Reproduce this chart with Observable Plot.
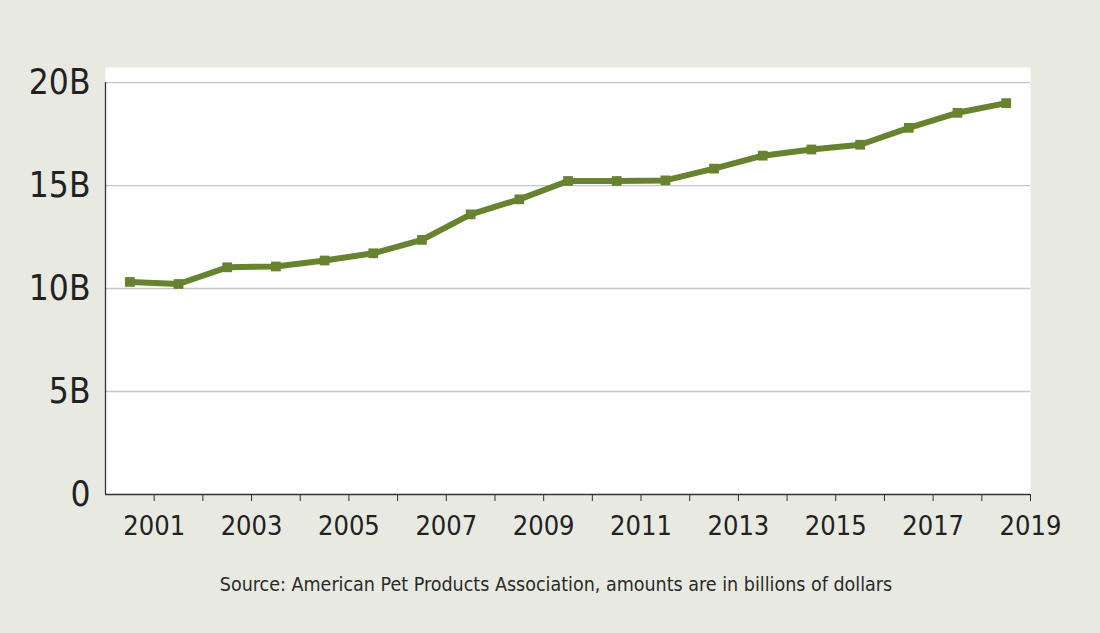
<!DOCTYPE html>
<html><head><meta charset="utf-8">
<script src="https://cdn.jsdelivr.net/npm/d3@7"></script>
<script src="https://cdn.jsdelivr.net/npm/@observablehq/plot@0.6"></script>
<style>
html,body{margin:0;padding:0;background:#e8eae2;}
#chart{width:1100px;height:633px;position:relative;overflow:hidden;}
#chart svg text{font-stretch:condensed;}
#caption{position:absolute;left:0;width:1112px;top:573px;text-align:center;font-family:"DejaVu Sans Condensed","DejaVu Sans",sans-serif;font-stretch:condensed;font-size:19.5px;color:#2a2a2a;}
</style></head><body><div id="chart"></div>
<script>
// Pet spending, billions of dollars (plotted at mid-year)
const years = [2000,2001,2002,2003,2004,2005,2006,2007,2008,2009,2010,2011,2012,2013,2014,2015,2016,2017,2018];
const spending = [10.32,10.22,11.03,11.07,11.36,11.71,12.36,13.6,14.33,15.22,15.22,15.25,15.82,16.45,16.75,16.98,17.8,18.53,19.0];
const yTicks = [0,5,10,15,20];
const xTickYears = [2001,2002,2003,2004,2005,2006,2007,2008,2009,2010,2011,2012,2013,2014,2015,2016,2017,2018,2019];
const xLabelYears = [2001,2003,2005,2007,2009,2011,2013,2015,2017,2019];
const caption = "Source: American Pet Products Association, amounts are in billions of dollars";

const data = years.map((y,i)=>({year:y, value:spending[i]}));
const green = "#688330";

const plot = Plot.plot({
  width:1100, height:560,
  marginLeft:105, marginRight:70, marginTop:67, marginBottom:66,
  style:{fontFamily:'"DejaVu Sans Condensed","DejaVu Sans",sans-serif', background:"transparent", color:"#222"},
  x:{type:"linear", domain:[2000,2019]},
  y:{domain:[0,20.73]},
  marks:[
    Plot.frame({fill:"white", stroke:"none"}),
    Plot.gridY(yTicks.filter(d=>d>0), {stroke:"#c6c6c6", strokeOpacity:1, strokeWidth:1.3}),
    Plot.ruleX([2000], {y1:0, y2:20, stroke:"#333", strokeWidth:1.3}),
    Plot.ruleY([0], {stroke:"#333", strokeWidth:1.3}),
    Plot.axisY(yTicks, {tickSize:0, tickPadding:15, tickFormat:d=>d===0?"0":d+"B", fontSize:35, fill:"#222", label:null}),
    Plot.axisX(xTickYears, {tickSize:7, tickPadding:14, stroke:"#333", tickFormat:d=>xLabelYears.includes(d)?String(d):"", fontSize:27, fill:"#222", label:null}),
    Plot.line(data, {x:d=>d.year+0.5, y:"value", stroke:green, strokeWidth:6}),
    Plot.dot(data, {x:d=>d.year+0.5, y:"value", symbol:"square", r:5.5, fill:green, stroke:"none"})
  ]
});
const chart = document.getElementById("chart");
chart.appendChild(plot);
const cap = document.createElement("div");
cap.id = "caption";
cap.textContent = caption;
chart.appendChild(cap);
</script>
</body></html>
